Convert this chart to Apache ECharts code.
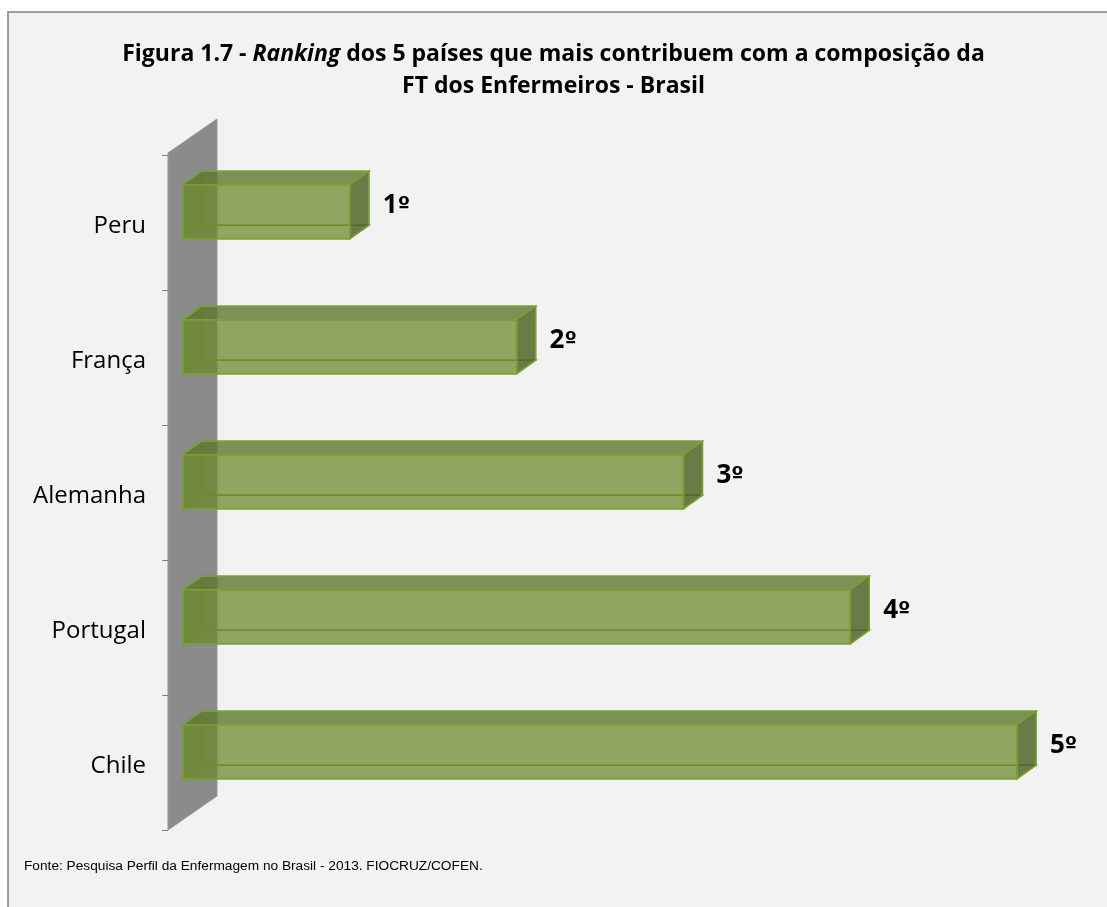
<!DOCTYPE html>
<html>
<head>
<meta charset="utf-8">
<script src="https://cdn.jsdelivr.net/npm/echarts@6/dist/echarts.min.js"></script>
<style>
  html, body { margin: 0; padding: 0; background: #ffffff; }
  #chart { width: 1107px; height: 907px; }
</style>
</head>
<body>
<div id="chart"></div>
<script>
// Countries, top to bottom
const categories = ['Peru', 'França', 'Alemanha', 'Portugal', 'Chile'];
// Rank of each country (bar length and the "nº" label)
const rankValues = [1, 2, 3, 4, 5];

const titleText = 'Figura 1.7 - {i|Ranking} dos 5 países que mais contribuem com a composição da\nFT dos Enfermeiros - Brasil';
const sourceText = 'Fonte: Pesquisa Perfil da Enfermagem no Brasil - 2013. FIOCRUZ/COFEN.';

const chart = echarts.init(document.getElementById('chart'), null, { renderer: 'canvas' });

const DEPTH_X = 19;     // 3D depth offset of the boxes
const DEPTH_Y = -13.5;
const EDGE = 'rgba(120,162,52,0.95)';
const WALL_GAP = 15;    // wall's front edge sits this far left of the bars' start

// Grey back wall standing behind the bars, with the category ticks on its edge
function renderWall(params, api) {
  const cs = params.coordSys;
  const xl = cs.x - WALL_GAP;
  const top = cs.y - 2;
  const bottom = cs.y + cs.height;
  const band = api.size([0, 1])[1];
  const children = [{
    type: 'polygon',
    shape: { points: [[xl, top], [xl + 49, top - 34], [xl + 49, bottom - 34], [xl, bottom]] },
    style: { fill: '#8b8b8b', stroke: '#979797', lineWidth: 1 }
  }];
  for (let i = 0; i <= categories.length; i++) {
    const y = Math.round(cs.y + i * band) + 0.5;
    children.push({
      type: 'line',
      shape: { x1: xl - 6, y1: y, x2: xl, y2: y },
      style: { stroke: '#7f7f7f', lineWidth: 1 }
    });
  }
  return { type: 'group', children: children };
}

// Translucent 3D box per country
function renderBox(params, api) {
  const v = api.value(0);
  const idx = api.value(1);
  const p0 = api.coord([0, idx]);
  const p1 = api.coord([v, idx]);
  const band = api.size([0, 1])[1];
  const h = band * 0.4;
  const yc = p0[1] - band * 0.08;
  const x0 = p0[0], x1 = p1[0];
  const yt = yc - h / 2, yb = yc + h / 2;
  const dx = DEPTH_X, dy = DEPTH_Y;
  const poly = (pts, fill, stroke, lw) => ({
    type: 'polygon',
    shape: { points: pts },
    style: { fill: fill, stroke: stroke, lineWidth: lw }
  });
  return {
    type: 'group',
    children: [
      // back face
      poly([[x0 + dx, yt + dy], [x1 + dx, yt + dy], [x1 + dx, yb + dy], [x0 + dx, yb + dy]],
        'rgba(110,140,40,0.05)', 'rgba(110,150,45,0.9)', 1.5),
      // bottom face
      poly([[x0, yb], [x1, yb], [x1 + dx, yb + dy], [x0 + dx, yb + dy]],
        'rgba(110,140,40,0.05)', 'rgba(110,150,45,0.9)', 1.5),
      // left face
      poly([[x0, yt], [x0 + dx, yt + dy], [x0 + dx, yb + dy], [x0, yb]],
        'rgba(100,130,35,0.18)', 'rgba(110,150,45,0.9)', 1.5),
      // top face
      poly([[x0, yt], [x1, yt], [x1 + dx, yt + dy], [x0 + dx, yt + dy]],
        'rgba(94,118,44,0.78)', EDGE, 1.5),
      // right face
      poly([[x1, yt], [x1 + dx, yt + dy], [x1 + dx, yb + dy], [x1, yb]],
        'rgba(73,96,32,0.8)', EDGE, 1.5),
      // front face
      poly([[x0, yt], [x1, yt], [x1, yb], [x0, yb]],
        'rgba(108,136,38,0.7)', EDGE, 1.5),
      {
        type: 'text',
        style: {
          text: '{n|' + v + '}{o|º}',
          x: x1 + dx + 14,
          y: yc + dy / 2 + 1,
          verticalAlign: 'middle',
          align: 'left',
          fill: '#000000',
          rich: {
            n: { font: 'bold 26px "Open Sans", sans-serif', fill: '#000000' },
            o: { font: 'bold 22px "DejaVu Sans", sans-serif', fill: '#000000' }
          }
        }
      }
    ]
  };
}

const labelFont = {
  fontSize: 24,
  fontFamily: '"Open Sans", sans-serif',
  color: '#000000'
};

const option = {
  backgroundColor: '#ffffff',
  animation: false,
  graphic: [{
    type: 'rect',
    z: 0,
    shape: { x: 8, y: 12, width: 1120, height: 920 },
    style: { fill: '#f2f2f2', stroke: '#808080', lineWidth: 1.5 }
  }],
  title: [{
    text: titleText,
    left: 'center',
    top: 38,
    padding: 0,
    textStyle: {
      fontFamily: '"Open Sans", sans-serif',
      fontSize: 23,
      fontWeight: 'bold',
      color: '#000000',
      lineHeight: 32,
      rich: {
        i: {
          fontFamily: '"Open Sans", sans-serif',
          fontSize: 23,
          fontWeight: 'bold',
          fontStyle: 'italic',
          color: '#000000',
          lineHeight: 32
        }
      }
    }
  }, {
    text: sourceText,
    left: 24,
    top: 859,
    padding: 0,
    textStyle: {
      fontFamily: '"Liberation Sans", Arial, sans-serif',
      fontSize: 13.7,
      fontWeight: 'normal',
      color: '#000000'
    }
  }],
  grid: { left: 183, right: 90, top: 155, bottom: 77, containLabel: false },
  xAxis: { type: 'value', min: 0, max: 5, show: false },
  yAxis: {
    type: 'category',
    data: categories,
    inverse: true,
    offset: WALL_GAP,
    axisLine: { show: false },
    axisTick: { show: false },
    axisLabel: {
      margin: 22,
      fontSize: 24,
      fontFamily: '"Open Sans", sans-serif',
      color: '#000000',
      formatter: (name) => '{a|' + name + '}',
      rich: {
        a: Object.assign({ padding: [8, 0, 0, 0] }, labelFont)
      }
    },
    splitLine: { show: false }
  },
  series: [{
    type: 'custom',
    name: 'wall',
    coordinateSystem: 'cartesian2d',
    silent: true,
    clip: false,
    data: [[0, 0]],
    encode: { x: 0, y: 1 },
    renderItem: renderWall
  }, {
    type: 'custom',
    name: 'rank',
    coordinateSystem: 'cartesian2d',
    clip: false,
    data: rankValues.map((v, i) => [v, i]),
    encode: { x: 0, y: 1 },
    renderItem: renderBox
  }]
};

chart.setOption(option);
</script>
</body>
</html>
